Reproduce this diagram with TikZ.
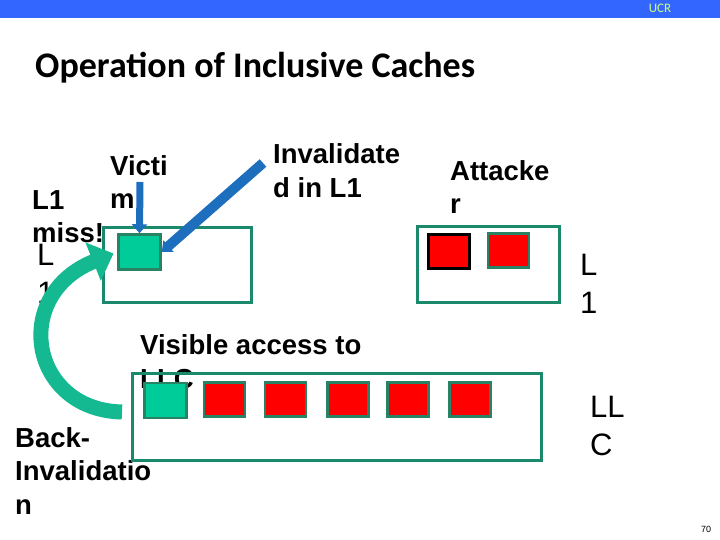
\documentclass[tikz,border=0pt]{standalone}
\usepackage{fontspec}
\setmainfont{Liberation Sans}
\newfontfamily\titlefont{Carlito}
\usetikzlibrary{positioning}
\usetikzlibrary{arrows.meta}
\definecolor{barblue}{RGB}{51,102,255}
\definecolor{ucrtext}{RGB}{214,255,122}
\definecolor{boxgreen}{RGB}{27,138,108}
\definecolor{blkgreen}{RGB}{0,204,153}
\definecolor{blkedge}{RGB}{40,130,100}
\definecolor{arrowblue}{RGB}{30,110,190}
\definecolor{backgreen}{RGB}{20,185,145}
\tikzset{
    cache/.style = {rectangle, draw=boxgreen, line width=3.5pt, inner sep=0pt},
    blkg/.style = {rectangle, draw=blkedge, line width=2.5pt, fill=blkgreen, minimum width=42pt, minimum height=35pt, inner sep=0pt},
    blkr/.style = {rectangle, draw=blkedge, line width=2.5pt, fill=red, minimum width=41pt, minimum height=34pt, inner sep=0pt},
    blkrb/.style = {blkr, draw=black, line width=3pt},
    lbl/.style = {anchor=base west, align=left, inner sep=0pt, font=\fontsize{27.5}{33.5}\selectfont\bfseries}, % base = last line
    cachelbl/.style = {anchor=base west, align=left, inner sep=0pt, font=\fontsize{31}{38}\selectfont},
    edgeb/.style = {-{Triangle[length=9pt,width=15pt]}, line width=7pt, arrowblue},
    edgeback/.style = {-{Triangle[length=22pt,width=40pt]}, line width=15pt, backgreen}
}

\begin{document}
\begin{tikzpicture}[x=1pt,y=-1pt]
  \useasboundingbox (0,0) rectangle (720,540);
  \fill[barblue] (0,0) rectangle (720,18);
  \node[text=ucrtext, font=\titlefont\fontsize{13}{14}\selectfont] (ucr) at (660,8) {UCR};
  \node[anchor=base west, inner sep=0pt, font=\titlefont\bfseries\fontsize{36}{40}\selectfont] (title) at (35,78) {Operation of Inclusive Caches};

  % labels
  \node[lbl] (victimlbl) at (110,209) {Victi\\m};
  \node[lbl] (misslbl) at (32,243) {L1\\miss!};
  \node[cachelbl] (l1left) at (37,303) {L\\1};
  \node[lbl] (invlbl) at (273,197) {Invalidate\\d in L1};
  \node[lbl] (attlbl) at (450,214) {Attacke\\r};
  \node[cachelbl] (l1right) at (580,313) {L\\1};
  \node[lbl] (vislbl) at (140,388) {Visible access to\\LLC};
  \node[lbl] (backlbl) at (15,514) {Back-\\Invalidatio\\n};
  \node[cachelbl] (llclbl) at (590,455) {LL\\C};

  % caches
  \node[cache, minimum width=148pt, minimum height=75pt] (l1a) at (177.5,265) {};
  \node[cache, minimum width=142pt, minimum height=76pt] (l1b) at (488.5,264.5) {};
  \node[cache, minimum width=409pt, minimum height=87pt] (llc) at (337,417) {};

  % lines
  \node[blkg] (victim) at (139.5,252) {};
  \node[blkrb] (att1) at (449,251) {};
  \node[blkr] (att2) at (508.5,250.5) {};
  \node[blkg] (llcv) at (165.5,400.5) {};
  \node[blkr] (llc1) at (224.5,399.5) {};
  \node[blkr] (llc2) at (285.5,399.5) {};
  \node[blkr] (llc3) at (348,399.5) {};
  \node[blkr] (llc4) at (408,399.5) {};
  \node[blkr] (llc5) at (470,399.5) {};

  % arrows
  \coordinate (victail) at (140,182);
  \coordinate (invtail) at (263,163);
  \coordinate (bitail) at (122,412);
  \draw[edgeb] (victail) -- (victim.north);
  \draw[edgeb, line width=10pt] (invtail) -- (victim.east);
  \draw[edgeback, shorten >=4pt] (bitail) .. controls (30,410) and (10,295) .. (victim.west);

  \node[font=\fontsize{9}{10}\selectfont, anchor=base] (pgno) at (706,532) {70};
\end{tikzpicture}
\end{document}
